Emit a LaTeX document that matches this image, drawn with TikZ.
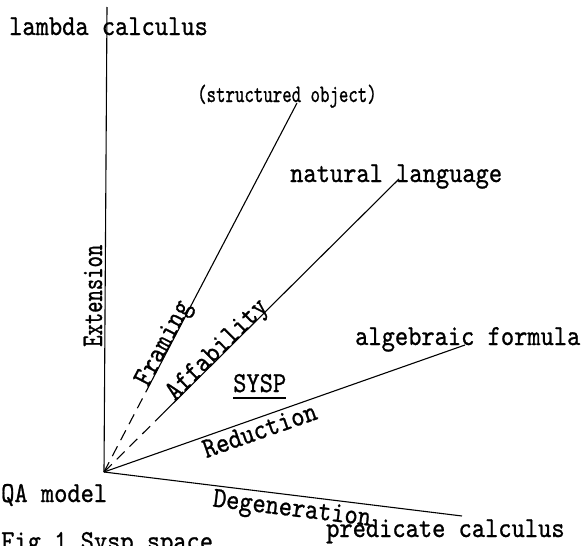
\documentclass[tikz,border=0pt]{standalone}
\usepackage{fontspec}
\usetikzlibrary{calc}
\newfontfamily\twA{lmmono10-regular}[Extension=.otf, FakeStretch=0.87, FakeBold=0.8]
\newfontfamily\twB{lmmono10-regular}[Extension=.otf, FakeStretch=0.72, FakeBold=0.8]
\tikzset{
  lbl/.style={font=\twA\fontsize{29}{32}\selectfont, inner sep=0pt},
  lbls/.style={font=\twB\fontsize{25}{28}\selectfont, inner sep=0pt},
  lblc/.style={font=\twB\fontsize{30}{32}\selectfont, inner sep=0pt},
  ax/.style={line width=1.1pt},
  dsh/.style={line width=1.1pt, dash pattern=on 11pt off 7pt},
}
\begin{document}
\begin{tikzpicture}[x=1pt,y=-1pt]
\useasboundingbox[fill=white] (0,0) rectangle (582,546);
\coordinate (O) at (104,472);
\coordinate (T) at (107,7);
\coordinate (S) at (297,103);
\coordinate (N) at (399,179);
\coordinate (A) at (465,345);
\coordinate (P) at (462,516);
\coordinate (Sd) at ($(O)!0.222!(S)$);
\coordinate (Nd) at ($(O)!0.2!(N)$);

\draw[ax] (O) -- (T);
\draw[dsh] (O) -- (Sd);
\draw[ax] (Sd) -- (S);
\draw[dsh] (O) -- (Nd);
\draw[ax] (Nd) -- (N);
\draw[ax] (O) -- (A);
\draw[ax] (O) -- (P);

\node[lbl, anchor=base west] (lc) at (9,35) {lambda calculus};
\node[lbls, anchor=base west] (so) at (197,102) {(structured object)};
\node[lbl, anchor=base west] (nl) at (290,182) {natural language};
\node[lbl, anchor=base west] (af) at (355,345) {algebraic formula};
\node[lbl, anchor=base west] (pc) at (326,537) {predicate calculus};
\node[lbl, anchor=base west] (qa) at (1,502) {QA model};
\node[lbl, anchor=base west] (fig) at (1,550) {Fig.1 Sysp space};
\node[lblc, anchor=base west, rotate=90] (ext) at (102,347) {Extension};
\node[lbl, anchor=base west] (sy) at (233,392) {SYSP};
\draw[ax] ([yshift=-6pt]sy.base west) -- ([yshift=-6pt]sy.base east);

\path (O) -- (S) node[lbl, sloped, pos=0.34, anchor=base] (fr) {Framing};
\path (O) -- (N) node[lbl, sloped, pos=0.40, anchor=base] (afb) {Affability};
\path (O) -- (A) node[lbl, sloped, pos=0.42, below=3pt] (red) {Reduction};
\path (O) -- (P) node[lbl, sloped, pos=0.53, below=3pt] (deg) {Degeneration};
\end{tikzpicture}
\end{document}
